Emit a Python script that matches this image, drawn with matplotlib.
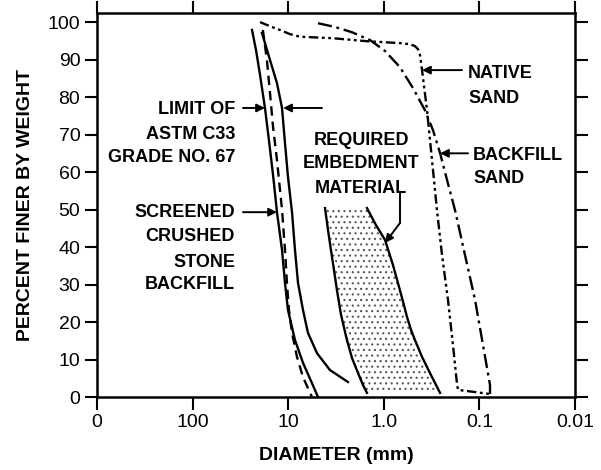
import matplotlib
matplotlib.use("Agg")
import matplotlib.pyplot as plt
from matplotlib.ticker import FixedLocator, NullLocator

plt.rcParams['font.family'] = ['Liberation Sans', 'DejaVu Sans']
plt.rcParams['hatch.linewidth'] = 0.8

# ---------------- data (diameter in mm, percent finer by weight) -------------
# ASTM C33 Grade No. 67 limits
c33_coarse_d = [23.9, 21.7, 19.7, 17.5, 15.9, 14.4, 13.1, 11.6, 10.8, 10.05, 8.49, 7.0, 5.64, 4.88]
c33_coarse_p = [97.9, 92.5, 85.9, 77.1, 68.5, 59.2, 49.3, 39.2, 30.4, 23.2, 15.2, 9.1, 3.7, 0.0]
c33_fine_d = [18.8, 15.5, 13.1, 11.6, 10.8, 10.05, 9.12, 8.49, 7.89, 7.0, 6.21, 5.0, 3.66, 2.37]
c33_fine_p = [97.1, 89.9, 83.7, 77.1, 67.7, 58.7, 49.3, 39.2, 30.4, 23.2, 17.1, 11.7, 7.2, 4.0]

# Screened crushed stone backfill
stone_d = [18.4, 16.7, 15.5, 14.4, 13.1, 11.6, 10.8, 10.3, 9.82, 9.12, 8.09, 7.0, 5.64]
stone_p = [97.9, 89.9, 81.1, 72.0, 63.2, 49.9, 39.2, 30.4, 23.2, 17.1, 10.7, 5.3, 0.0]

# Required embedment material band
embed_left_d = [4.12, 3.83, 3.57, 3.32, 3.09, 2.80, 2.43, 2.15, 1.86, 1.65, 1.50]
embed_left_p = [50.4, 44.5, 39.2, 33.9, 28.5, 21.9, 15.2, 10.4, 6.4, 3.2, 1.1]
embed_right_d = [1.50, 1.21, 0.971, 0.801, 0.678, 0.615, 0.571, 0.519, 0.472, 0.398, 0.329, 0.284, 0.258]
embed_right_p = [50.4, 45.9, 41.9, 35.2, 28.5, 24.5, 21.3, 17.9, 15.2, 10.7, 6.4, 3.2, 1.1]

# Native sand
native_d = [19.7, 15.5, 12.2, 9.58, 7.53, 3.40, 1.50, 0.678, 0.532, 0.472, 0.439, 0.418,
            0.408, 0.398, 0.353, 0.313, 0.278, 0.246, 0.213, 0.189, 0.171, 0.167, 0.0774]
native_p = [100.0, 98.9, 97.9, 96.8, 96.1, 95.7, 94.9, 94.4, 94.1, 93.6, 92.8, 91.2,
            89.3, 87.2, 76.5, 63.2, 49.9, 37.9, 25.9, 13.9, 3.2, 1.9, 0.8]

# Backfill sand
backfill_d = [4.88, 3.24, 2.15, 1.39, 0.971, 0.678, 0.495, 0.371, 0.306, 0.258, 0.218,
              0.180, 0.1415, 0.111, 0.0917, 0.0774, 0.0774]
backfill_p = [99.7, 98.7, 97.3, 95.2, 92.3, 88.0, 82.4, 76.5, 71.2, 65.1, 57.9,
              49.9, 37.9, 25.9, 13.9, 3.2, 0.8]

x_ticks = [1000, 100, 10, 1.0, 0.1, 0.01]
x_tick_labels = ['0', '100', '10', '1.0', '0.1', '0.01']
y_ticks = list(range(0, 101, 10))

# ---------------- figure ----------------
fig = plt.figure(figsize=(6.01, 4.70), dpi=100)
ax = fig.add_axes([0.1614, 0.1553, 0.7953, 0.816])

ax.set_xscale('log')
ax.set_xlim(1000, 0.01)
ax.set_ylim(0, 102.3)

# embedment band
poly_d = embed_left_d + embed_right_d[::-1]
poly_p = embed_left_p + embed_right_p[::-1]
ax.fill(poly_d, poly_p, facecolor='white', edgecolor='#555555', hatch='...', linewidth=0)
ax.plot(embed_left_d, embed_left_p, color='black', lw=1.7)
ax.plot(embed_right_d, embed_right_p, color='black', lw=1.7)

ax.plot(c33_coarse_d, c33_coarse_p, color='black', lw=1.7)
ax.plot(c33_fine_d, c33_fine_p, color='black', lw=1.7)
ax.plot(stone_d, stone_p, color='black', lw=1.7, linestyle=(0, (4, 2.5)))
ax.plot(native_d, native_p, color='black', lw=1.7,
        linestyle=(0, (4, 1.5, 1.2, 1.5, 1.2, 1.5)))
ax.plot(backfill_d, backfill_p, color='black', lw=1.7, linestyle=(0, (6, 2, 1.2, 2)))

# ---------------- axes styling ----------------
for s in ax.spines.values():
    s.set_linewidth(1.8)
ax.xaxis.set_major_locator(FixedLocator(x_ticks))
ax.xaxis.set_minor_locator(NullLocator())
ax.set_xticklabels(x_tick_labels)
ax.set_yticks(y_ticks)
ax.tick_params(axis='both', which='major', direction='out', length=9, width=1.5,
               labelsize=14, top=True, right=True, labeltop=False, labelright=False,
               pad=3)
ax.set_xlabel('DIAMETER (mm)', fontsize=14, fontweight='bold', labelpad=12)
ax.set_ylabel('PERCENT FINER BY WEIGHT', fontsize=14, fontweight='bold', labelpad=10)

# ---------------- annotations ----------------
tfont = dict(fontsize=13, fontweight='bold')
arrow = dict(arrowstyle='-|>', color='black', lw=1.4, mutation_scale=12,
             shrinkA=0, shrinkB=0)

for txt, p in [('LIMIT OF', 76.6), ('ASTM C33', 70.1), ('GRADE NO. 67', 64.0)]:
    ax.text(36.0, p, txt, ha='right', va='center', **tfont)
ax.annotate('', xy=(17.5, 77.1), xytext=(29.7, 77.1), arrowprops=arrow)
ax.annotate('', xy=(11.3, 77.1), xytext=(4.43, 77.1), arrowprops=arrow)

for txt, p in [('SCREENED', 49.1), ('CRUSHED', 42.7), ('STONE', 36.0), ('BACKFILL', 29.9)]:
    ax.text(36.0, p, txt, ha='right', va='center', **tfont)
ax.annotate('', xy=(13.1, 49.3), xytext=(29.7, 49.3), arrowprops=arrow)

for txt, p in [('REQUIRED', 68.3), ('EMBEDMENT', 62.4), ('MATERIAL', 55.7)]:
    ax.text(1.73, p, txt, ha='center', va='center', **tfont)
ax.plot([0.678, 0.678], [54.4, 46.4], color='black', lw=1.4)
ax.annotate('', xy=(0.97, 41.1), xytext=(0.678, 46.4), arrowprops=arrow)

for txt, p in [('NATIVE', 86.4), ('SAND', 79.7)]:
    ax.text(0.1315, p, txt, ha='left', va='center', **tfont)
ax.annotate('', xy=(0.398, 87.2), xytext=(0.152, 87.2), arrowprops=arrow)

for txt, p in [('BACKFILL', 64.5), ('SAND', 58.4)]:
    ax.text(0.1167, p, txt, ha='left', va='center', **tfont)
ax.annotate('', xy=(0.258, 65.0), xytext=(0.1315, 65.0), arrowprops=arrow)

fig.savefig('out.png', dpi=100)
